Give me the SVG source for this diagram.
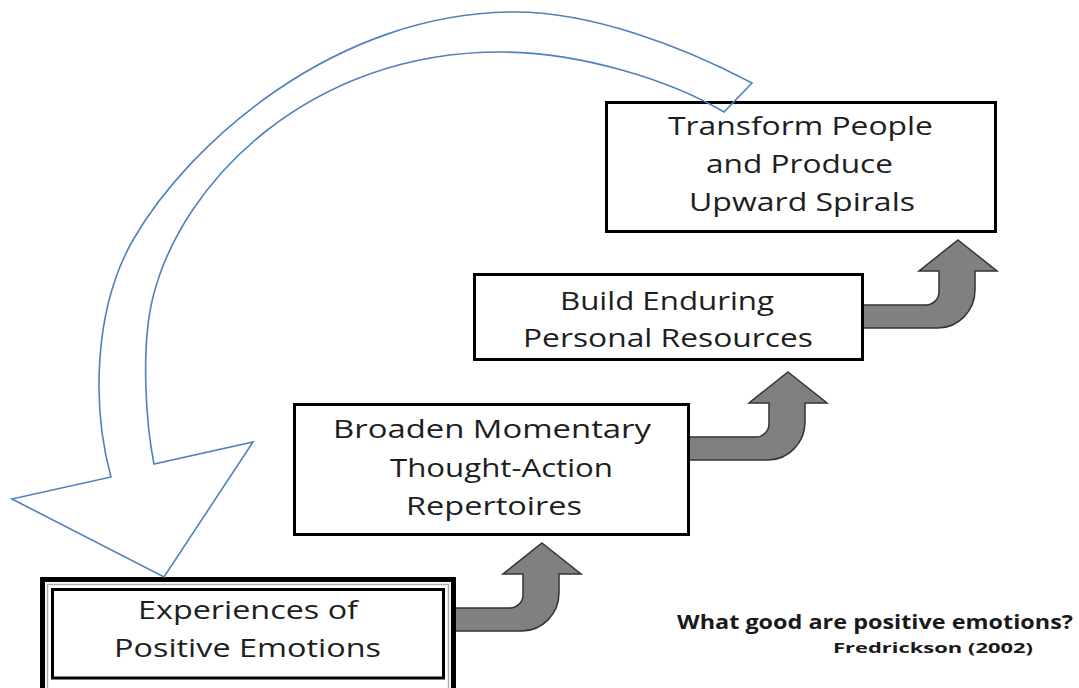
<svg xmlns="http://www.w3.org/2000/svg" xmlns:xlink="http://www.w3.org/1999/xlink" width="1079" height="688" viewBox="0 0 1079 688">
  <style>
    .box { fill: #ffffff; stroke: #000000; stroke-width: 3; }
    .label { font-family: "Open Sans", "Liberation Sans", sans-serif; font-size: 26px; fill: #1e1e1e; }
    .note { font-family: "Open Sans", "Liberation Sans", sans-serif; font-weight: bold; fill: #1a1a1a; }
    .step { fill: #808080; stroke: #333333; stroke-width: 1.5; stroke-linejoin: miter; }
    .loop { fill: none; stroke: #4f81bd; stroke-width: 1.6; stroke-linejoin: miter; }
  </style>
  <defs>
    <!-- bent-up block arrow, tip at the origin -->
    <path id="bentUp" d="M0,0 L39,31 L17,31 L17,50 C17,71 0,88 -20,88 L-100,88 L-100,65 L-32,65 C-25,65 -19,59 -19,52 L-19,31 L-39,31 Z"/>
  </defs>
  <rect width="1079" height="688" fill="#ffffff"/>

  <!-- connectors: the three step arrows -->
  <g id="connectors">
    <use xlink:href="#bentUp" class="step" transform="translate(542,543)"/>
    <use xlink:href="#bentUp" class="step" transform="translate(788,372)"/>
    <use xlink:href="#bentUp" class="step" transform="translate(958,240)"/>
  </g>

  <g id="node-experiences">
    <rect x="42.5" y="579.5" width="411" height="120" fill="#ffffff" stroke="#000000" stroke-width="5"/>
    <rect x="47.5" y="584.5" width="401" height="110" fill="none" stroke="#b0b0b0" stroke-width="1.5"/>
    <rect x="52.5" y="589.5" width="391" height="88.5" fill="#ffffff" stroke="#000000" stroke-width="3"/>
    <text class="label" x="138" y="619" textLength="220" lengthAdjust="spacingAndGlyphs">Experiences of</text>
    <text class="label" x="114" y="657" textLength="267" lengthAdjust="spacingAndGlyphs">Positive Emotions</text>
  </g>

  <g id="node-broaden">
    <rect class="box" x="294.5" y="404.5" width="394" height="130"/>
    <text class="label" x="333" y="438" textLength="318" lengthAdjust="spacingAndGlyphs">Broaden Momentary</text>
    <text class="label" x="390" y="477" textLength="223" lengthAdjust="spacingAndGlyphs">Thought-Action</text>
    <text class="label" x="406" y="515" textLength="176" lengthAdjust="spacingAndGlyphs">Repertoires</text>
  </g>

  <g id="node-build">
    <rect class="box" x="474.5" y="274.5" width="388" height="85"/>
    <text class="label" x="560" y="310" textLength="214" lengthAdjust="spacingAndGlyphs">Build Enduring</text>
    <text class="label" x="523" y="347" textLength="290" lengthAdjust="spacingAndGlyphs">Personal Resources</text>
  </g>

  <g id="node-transform">
    <rect class="box" x="606.5" y="102.5" width="389" height="129"/>
    <text class="label" x="668" y="135" textLength="265" lengthAdjust="spacingAndGlyphs">Transform People</text>
    <text class="label" x="706" y="173" textLength="187" lengthAdjust="spacingAndGlyphs">and Produce</text>
    <text class="label" x="689" y="211" textLength="226" lengthAdjust="spacingAndGlyphs">Upward Spirals</text>
  </g>

  <!-- feedback loop: outlined curved arrow back to the first step -->
  <g id="loop-arrow">
    <path class="loop" d="M752,83 C680,45 590,12 515,12 C335,12 188,144 133,240 C93,310 92,408 111,477 L12,499 L164,577 L253,442 L154,464 C146,424 140.5,347 153,297 C182,181 310,52 500,52 C580,52 670,80 724,112 Z"/>
  </g>

  <g id="caption">
    <text class="note" x="677" y="629" font-size="19" textLength="396" lengthAdjust="spacingAndGlyphs">What good are positive emotions?</text>
    <text class="note" x="833" y="653" font-size="15" textLength="200" lengthAdjust="spacingAndGlyphs">Fredrickson (2002)</text>
  </g>
</svg>
